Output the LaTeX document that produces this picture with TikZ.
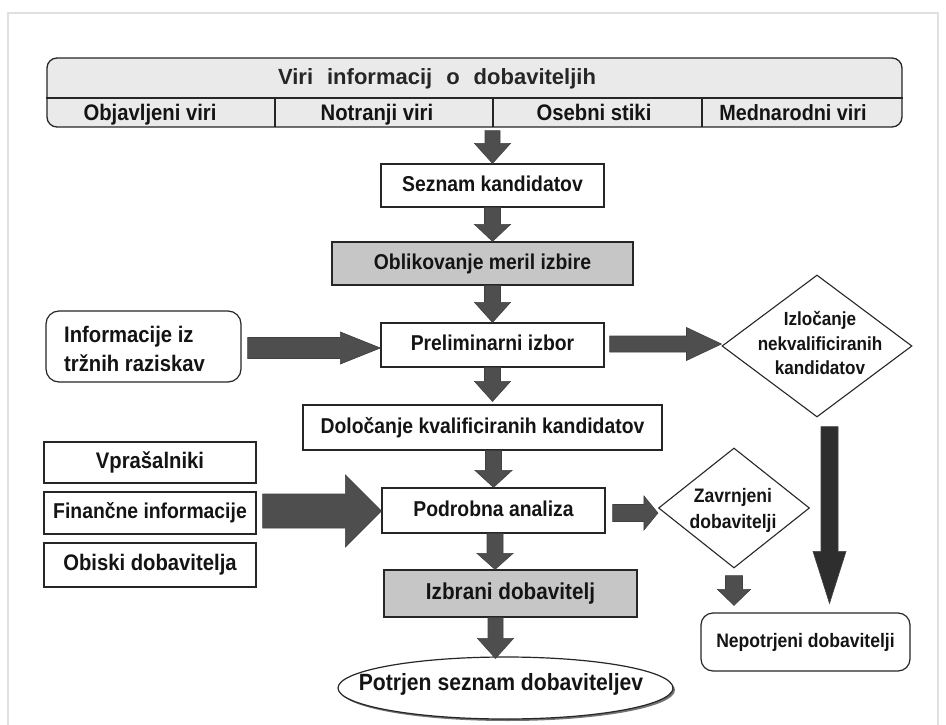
\documentclass[tikz,border=0pt]{standalone}
\usepackage{fontspec}
\setmainfont{Liberation Sans}[FakeStretch=0.9]
\newfontfamily\titlefont{Liberation Sans}
\usetikzlibrary{shapes.geometric,calc}
\definecolor{arrowgray}{HTML}{4E4E4E}
\definecolor{arrowdark}{HTML}{2E2E2E}
\definecolor{boxgray}{HTML}{C6C6C6}
\definecolor{topgray}{HTML}{EAEAEA}
\tikzset{
  txtbase/.style={font=\bfseries\fontsize{21.5}{24}\selectfont, inner sep=0pt, text=black!92},
  txt/.style={txtbase, text height=15.5pt, text depth=4.5pt},
  fs/.style={font=\bfseries\fontsize{#1}{24}\selectfont},
  box/.style={draw=black!85, line width=1.2pt, fill=white, inner sep=0pt, txt},
  graybox/.style={box, fill=boxgray},
  rbox/.style={box, rounded corners=13pt},
  dia/.style={draw=black!85, line width=1.1pt, diamond, fill=white, inner sep=0pt},
  arrfill/.style={fill=arrowgray, draw=black!75, line width=0.6pt, line join=miter},
}
% vertical block arrow: x from #2 start; from #2 to tip #3; #4 body half width, #5 head half width, #6 head length
\newcommand\vbarrow[6][]{%
  \path[arrfill,#1] let \p1=#2, \p2=#3 in
    (\x1-#4,\y1) -- (\x1+#4,\y1) -- (\x1+#4,\y2+#6) -- (\x1+#5,\y2+#6) -- (\x1,\y2)
    -- (\x1-#5,\y2+#6) -- (\x1-#4,\y2+#6) -- cycle;}
% horizontal block arrow: y from #2 start
\newcommand\hbarrow[6][]{%
  \path[arrfill,#1] let \p1=#2, \p2=#3 in
    (\x1,\y1+#4) -- (\x2-#6,\y1+#4) -- (\x2-#6,\y1+#5) -- (\x2,\y1) -- (\x2-#6,\y1-#5)
    -- (\x2-#6,\y1-#4) -- (\x1,\y1-#4) -- cycle;}
\begin{document}
\begin{tikzpicture}[x=1pt,y=-1pt]
\useasboundingbox (0,0) rectangle (946,725);
% frame
\draw[black!12, line width=1.2pt] (8,725) -- (8,13) -- (938,13) -- (938,725);

% top source box
\node[draw=black!85, line width=1.3pt, fill=topgray, rounded corners=10pt,
      minimum width=855pt, minimum height=69pt, inner sep=0pt] (src) at (474.5,92.5) {};
\draw[black!85, line width=1.2pt] (src.west |- 0,98) -- (src.east |- 0,98);
\draw[black!85, line width=1.1pt] (275,98) -- (275,127);
\draw[black!85, line width=1.1pt] (493,98) -- (493,127);
\draw[black!85, line width=1.1pt] (702,98) -- (702,127);
\node[inner sep=0pt, font=\titlefont\bfseries\fontsize{22}{24}\selectfont, text=black!85, text height=16pt, text depth=5pt] (title) at (437,79)
  {Viri\hspace{14pt}informacij\hspace{14pt}o\hspace{14pt}dobaviteljih};
\node[txt, fs=22.5] (s1) at (150,115) {Objavljeni viri};
\node[txt, fs=22.5] (s2) at (377,115) {Notranji viri};
\node[txt, fs=22.5] (s3) at (594,115) {Osebni stiki};
\node[txt, fs=22] (s4) at (793,115) {Mednarodni viri};

% main column
\node[box, minimum width=223pt, minimum height=43pt] (seznam) at (492.5,185.5) {Seznam kandidatov};
\node[graybox, minimum width=301pt, minimum height=43pt] (oblik) at (482.5,263.5) {Oblikovanje meril izbire};
\node[box, minimum width=223pt, minimum height=44pt] (prelim) at (492.5,345) {Preliminarni izbor};
\node[box, minimum width=359pt, minimum height=45pt] (doloc) at (482.5,427.5) {Določanje kvalificiranih kandidatov};
\node[box, minimum width=223pt, minimum height=45pt] (podrob) at (493.5,510.5) {Podrobna analiza};
\node[graybox, fs=23, minimum width=253pt, minimum height=47pt] (izbrani) at (510.5,593.5) {Izbrani dobavitelj};
\fill[black!55] (507.5,690) ellipse [x radius=167.5pt, y radius=31pt];
\node[box, ellipse, minimum width=335pt, minimum height=62pt] (potrjen) at (505.5,688) {};
\node[txt, fs=23.5] (potrjentxt) at (501,685) {Potrjen seznam dobaviteljev};

% left inputs
\node[rbox, minimum width=195pt, minimum height=71pt] (info) at (143.5,346.5) {};
\node[txtbase, font=\bfseries\fontsize{22.5}{29}\selectfont, anchor=west, align=left] (infotxt) at (64,349) {Informacije iz\\tržnih raziskav};
\node[box, fs=22.5, minimum width=212pt, minimum height=41pt] (vpras) at (150,462.5) {Vprašalniki};
\node[box, minimum width=212pt, minimum height=42pt] (financ) at (150,513) {Finančne informacije};
\node[box, fs=22.5, minimum width=212pt, minimum height=44pt] (obiski) at (150,565) {Obiski dobavitelja};

% right side
\node[dia, minimum width=190pt, minimum height=142pt] (izloc) at (817,346) {};
\node[txtbase, font=\bfseries\fontsize{19}{24.5}\selectfont, align=center] (izloctxt) at (820,343) {Izločanje\\nekvalificiranih\\kandidatov};
\node[dia, minimum width=151pt, minimum height=120pt] (zavrn) at (734,508) {};
\node[txtbase, font=\bfseries\fontsize{19.5}{26}\selectfont, align=center] (zavrntxt) at (733,510) {Zavrnjeni\\dobavitelji};
\node[rbox, fs=19.5, minimum width=209pt, minimum height=58pt, rounded corners=12pt] (nepotr) at (805.5,642) {Nepotrjeni dobavitelji};

% vertical block arrows (main column)
\vbarrow{([yshift=-3pt]src.south -| seznam.north)}{(seznam.north)}{7.5pt}{18pt}{20pt}
\vbarrow{(seznam.south)}{(oblik.north -| seznam.south)}{8pt}{18pt}{17pt}
\vbarrow{(oblik.south -| seznam.south)}{(prelim.north)}{8pt}{18pt}{20pt}
\vbarrow{(prelim.south)}{([yshift=3pt]doloc.north -| prelim.south)}{8pt}{18pt}{20pt}
\vbarrow{(doloc.south -| podrob.north)}{(podrob.north)}{8pt}{18.5pt}{17pt}
\vbarrow{([xshift=1.5pt]podrob.south)}{(izbrani.north)}{8pt}{18pt}{16pt}
\vbarrow{([xshift=2pt]izbrani.south -| podrob.south)}{([yshift=-2pt]potrjen.north)}{7.5pt}{18pt}{20pt}

% horizontal block arrows
\hbarrow{([xshift=6pt,yshift=-1.5pt]info.east)}{(prelim.west)}{10.5pt}{16pt}{40pt}
\hbarrow{([xshift=5pt,yshift=1pt]prelim.east)}{(izloc.west)}{8pt}{16.5pt}{35pt}
\hbarrow{([xshift=6pt,yshift=2pt]financ.east)}{(podrob.west)}{17pt}{36pt}{36pt}
\hbarrow{([xshift=7pt,yshift=-2.5pt]podrob.east)}{(zavrn.west)}{8.5pt}{17pt}{14pt}

% right vertical block arrows
\vbarrow{([yshift=-7pt]zavrn.south)}{([yshift=7pt]nepotr.north -| zavrn.south)}{8.5pt}{16.5pt}{16pt}
\vbarrow[fill=arrowdark]{([xshift=12.5pt,yshift=-9pt]izloc.south)}{([yshift=9pt]nepotr.north)}{8.5pt}{16.5pt}{52pt}
\end{tikzpicture}
\end{document}
